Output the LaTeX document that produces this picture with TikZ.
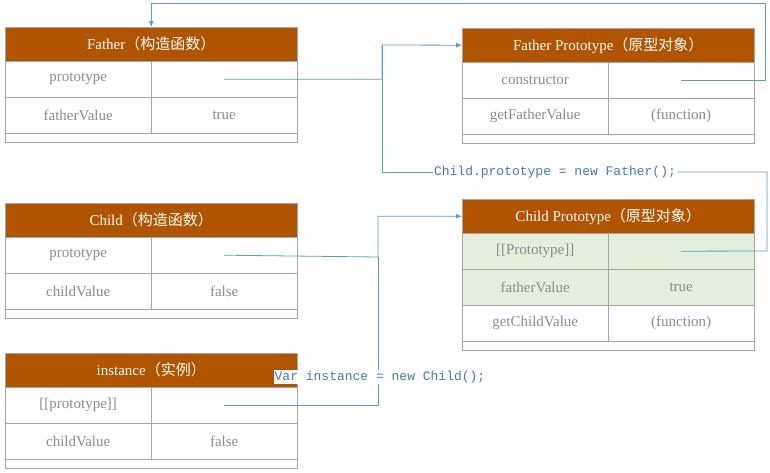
\documentclass[tikz,border=0pt]{standalone}
\usepackage{fontspec}
\setmainfont{Liberation Serif}
\setmonofont{Liberation Mono}
\newfontfamily\cjk{Noto Sans CJK SC}
\usetikzlibrary{arrows.meta}
\definecolor{hdrbrown}{HTML}{B05400}
\definecolor{gridgray}{HTML}{A6A6A6}
\definecolor{txtgray}{HTML}{8C8C8C}
\definecolor{rowgreen}{HTML}{E2EFDA}
\definecolor{linkblue}{HTML}{5B9BD5}
\definecolor{codeblue}{HTML}{3F7CB8}
\tikzset{
  hdr/.style={draw=gridgray,fill=hdrbrown,text=white,anchor=north west,minimum width=292pt,minimum height=34pt,inner sep=0pt,font=\fontsize{15}{15}\selectfont},
  cell/.style={draw=gridgray,text=txtgray,anchor=north west,minimum width=146pt,minimum height=36pt,inner sep=0pt,font=\fontsize{15}{15}\selectfont},
  strip/.style={draw=gridgray,fill=white,anchor=north west,minimum width=292pt,minimum height=9pt,inner sep=0pt},
  link/.style={draw=linkblue,line width=0.8pt},
  code/.style={text=codeblue,fill=white,inner sep=1pt,font=\ttfamily\fontsize{13}{13}\selectfont}
}
% #1 name, #2 x, #3 top, #4 title, #5 rows
\newcommand\objtable[5]{%
  \node[hdr] (#1-h) at (#2,#3) {#4};
  \foreach \l/\r/\c [count=\i] in {#5} {
    \node[strip] at (#2,{#3+34+\i*36}) {};
    \node[cell,fill=\c] (#1-\i l) at (#2,{#3+34+(\i-1)*36}) {\l};
    \node[cell,fill=\c] (#1-\i r) at ({#2+146},{#3+34+(\i-1)*36}) {\r};
  }
}
\begin{document}
\begin{tikzpicture}[x=1pt,y=-1pt]
	\useasboundingbox (0,0) rectangle (770,472);

	\objtable{F}{5}{27}{Father{\cjk（构造函数）}}{prototype//white, fatherValue/true/white}
	\objtable{FP}{462}{28}{Father Prototype{\cjk（原型对象）}}{constructor//white, getFatherValue/(function)/white}
	\objtable{C}{5}{203}{Child{\cjk（构造函数）}}{prototype//white, childValue/false/white}
	\objtable{CP}{462}{199}{Child Prototype{\cjk（原型对象）}}{[[Prototype]]//rowgreen, fatherValue/true/rowgreen, getChildValue/(function)/white}
	\objtable{I}{5}{353}{instance{\cjk（实例）}}{[[prototype]]//white, childValue/false/white}

	\coordinate (topR) at (765,3);
	\coordinate (joinA) at (382,45);
	\coordinate (joinB) at (378,257);

	\draw [link, -{Latex[length=6pt,width=5pt]}] (F-1r.center) -| (joinA) -- (FP-h.west);
	\draw [link, -{Latex[length=6pt,width=5pt]}] (FP-1r.center) -| (topR) -| (F-h.north);
	\draw [link, -{Latex[length=6pt,width=5pt]}] (C-1r.center) -- (joinB) |- (CP-h.west);

	\node[code] (code1) at (555,172) {Child.prototype = new Father();};
	\draw [link] (CP-1r.center) -- (767,251) |- (code1.east);
	\draw [link] (code1.west) -| (joinA);

	\draw [link] (I-1r.center) -| (joinB);
	\node[code] (code2) at (380,377) {Var instance = new Child();};
\end{tikzpicture}
\end{document}
